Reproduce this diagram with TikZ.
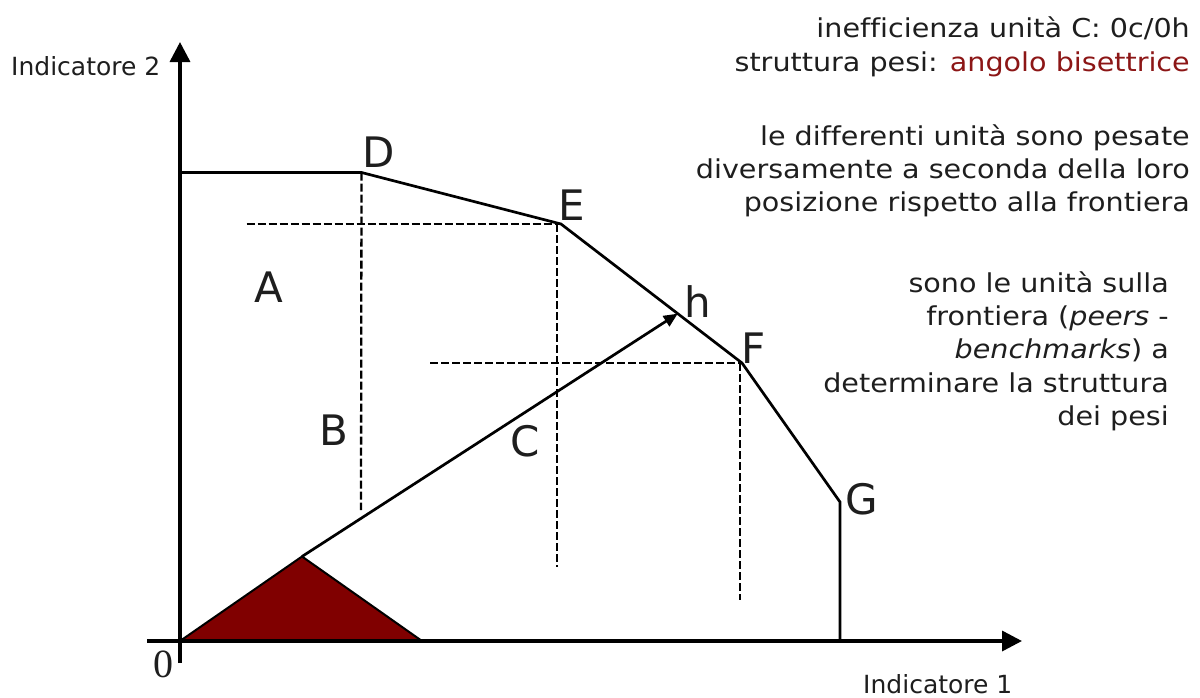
\documentclass[tikz,border=0pt]{standalone}
\usepackage{fontspec}
\setmainfont{DejaVu Sans}
\newfontfamily\serifzero{Liberation Serif}
\newfontfamily\notefont[FakeStretch=1.1,Ligatures=NoCommon]{DejaVu Sans}
\usetikzlibrary{arrows.meta,calc}
\definecolor{darkred}{RGB}{128,0,0}
\definecolor{redtxt}{RGB}{140,22,22}
\definecolor{txt}{RGB}{30,30,30}
\begin{document}
\begin{tikzpicture}[x=1pt,y=-1pt,
  frontier/.style={line width=2.7pt, line join=miter},
  axisline/.style={line width=3.5pt,-{Triangle[length=20pt,width=20pt]}},
  guide/.style={line width=2.3pt, dash pattern=on 8pt off 3pt},
  ptlabel/.style={font=\fontsize{42}{50}\selectfont, text=txt, inner sep=0pt, anchor=base west},
  note/.style={font=\notefont\fontsize{26}{33}\selectfont, text=txt, inner sep=0pt, anchor=base east},
  axlabel/.style={font=\fontsize{25}{33}\selectfont, text=txt, inner sep=0pt, anchor=base west}]
\useasboundingbox (0,0) rectangle (1200,697);
% key points
\coordinate (O) at (180,641);
\coordinate (Ybot) at (180,663);
\coordinate (Ytop) at (180,42);
\coordinate (Xleft) at (147,641);
\coordinate (Xright) at (1022,641);
\coordinate (S) at (180,172.5);
\coordinate (D) at (361.5,172.5);
\coordinate (E) at (561,224);
\coordinate (F) at (742,363);
\coordinate (G) at (840,502);
\coordinate (Gb) at (840,641);
\coordinate (H) at ($(E)!0.645!(F)$);
\coordinate (P) at (302,556.5);
\coordinate (T) at (422,641);
% guide ends
\coordinate (eh) at (246.7,224);
\coordinate (dv) at (361,510);
\coordinate (ev1) at (557,224);
\coordinate (ev2) at (557,567);
\coordinate (fh) at (430,363);
\coordinate (fv1) at (740,363);
\coordinate (fv2) at (740,600);
% triangle
\filldraw[fill=darkred, draw=black, line width=2pt, line join=miter] (O) -- (P) -- (T) -- cycle;
% guides
\draw[guide] (eh) -- (E);
\draw[guide] (D) -- (dv);
\draw[guide] (ev1) -- (ev2);
\draw[guide] (fh) -- (F);
\draw[guide] (fv1) -- (fv2);
% frontier
\draw[frontier] (S) -- (D) -- (E) -- (F) -- (G) -- (Gb);
% ray
\draw[line width=2.7pt,-{Triangle[length=14pt,width=12pt]}] (P) -- (H);
% axes
\draw[axisline] (Ybot) -- (Ytop);
\draw[axisline] (Xleft) -- (Xright);
% point labels
\node[ptlabel] (lD) at (362,167) {D};
\node[ptlabel] (lE) at (558,220) {E};
\node[ptlabel] (lF) at (741,363) {F};
\node[ptlabel] (lG) at (845,514) {G};
\node[ptlabel] (lh) at (684,317) {h};
\node[ptlabel] (lA) at (254,302) {A};
\node[ptlabel] (lB) at (319,445) {B};
\node[ptlabel] (lC) at (510,456) {C};
\node[inner sep=0pt, anchor=base west, font=\serifzero\fontsize{40}{44}\selectfont, text=txt] (l0) at (153,677) {0};
% axis labels
\node[axlabel] (ax2) at (11,75) {Indicatore 2};
\node[axlabel] (ax1) at (863,693) {Indicatore 1};
% notes
\node[note] (n1) at (1190,37) {inefficienza unità C: 0c/0h};
\node[note] (n2) at (1190,71) {struttura pesi: \textcolor{redtxt}{angolo bisettrice}};
\node[note] (n3) at (1190,145) {le differenti unità sono pesate};
\node[note] (n4) at (1190,178) {diversamente a seconda della loro};
\node[note] (n5) at (1190,211) {posizione rispetto alla frontiera};
\node[note] (n6) at (1169,292) {sono le unità sulla};
\node[note] (n7) at (1169,325) {frontiera (\textit{peers} -};
\node[note] (n8) at (1169,358) {\textit{benchmarks}) a};
\node[note] (n9) at (1169,392) {determinare la struttura};
\node[note] (n10) at (1169,425) {dei pesi};
\end{tikzpicture}
\end{document}
